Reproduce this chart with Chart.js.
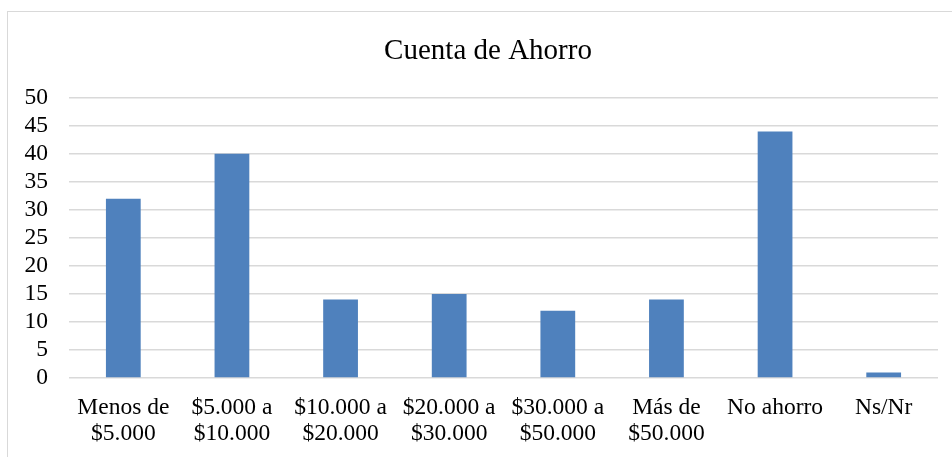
<!DOCTYPE html>
<html>
<head>
<meta charset="utf-8">
<script src="https://cdn.jsdelivr.net/npm/chart.js@4.4.0/dist/chart.umd.min.js"></script>
<style>
html,body{margin:0;padding:0;background:#fff;overflow:hidden;width:952px;height:457px;}
#box{position:absolute;left:7px;top:11px;width:960px;height:460px;border:1px solid #d9d9d9;}
canvas{display:block;}
</style>
</head>
<body>
<div id="box"><canvas id="c" width="960" height="460"></canvas></div>
<script>
const categories = [
  ["Menos de", "$5.000"],
  ["$5.000 a", "$10.000"],
  ["$10.000 a", "$20.000"],
  ["$20.000 a", "$30.000"],
  ["$30.000 a", "$50.000"],
  ["Más de", "$50.000"],
  "No ahorro",
  "Ns/Nr"
];
const values = [32, 40, 14, 15, 12, 14, 44, 1];
const yMin = 0, yMax = 50, yStep = 5;
const titleText = "Cuenta de Ahorro";

const serif = "'Liberation Serif', 'Times New Roman', serif";

new Chart(document.getElementById('c'), {
  type: 'bar',
  data: {
    labels: categories,
    datasets: [{
      data: values,
      backgroundColor: '#4f81bd',
      borderWidth: 0,
      barPercentage: 0.32,
      categoryPercentage: 1.0
    }]
  },
  options: {
    responsive: false,
    animation: false,
    devicePixelRatio: 1,
    layout: { padding: { left: 0, right: 0, top: 0, bottom: 0 } },
    plugins: {
      legend: { display: false },
      tooltip: { enabled: false },
      title: {
        display: true,
        text: titleText,
        color: '#000',
        font: { family: serif, size: 29, weight: 'normal', lineHeight: 1.2 },
        padding: { top: 22, bottom: 29 }
      }
    },
    scales: {
      x: {
        grid: { display: false, drawTicks: false },
        border: { display: false },
        ticks: {
          color: '#000',
          font: { family: serif, size: 23.5, lineHeight: 1.1 },
          padding: 17,
          maxRotation: 0,
          minRotation: 0,
          autoSkip: false
        },
        afterFit: s => { s.height = 94; }
      },
      y: {
        min: yMin, max: yMax,
        grid: { color: '#d9d9d9', lineWidth: 1.5, drawTicks: false },
        border: { display: false },
        ticks: {
          stepSize: yStep,
          autoSkip: false,
          color: '#000',
          font: { family: serif, size: 23.5 },
          padding: 21
        },
        afterFit: s => { s.width = 61; }
      },
      yRight: {
        type: 'linear',
        position: 'right',
        min: yMin, max: yMax,
        grid: { display: false, drawTicks: false },
        border: { display: false },
        ticks: { display: false },
        afterFit: s => { s.width = 30; }
      }
    }
  }
});
</script>
</body>
</html>
